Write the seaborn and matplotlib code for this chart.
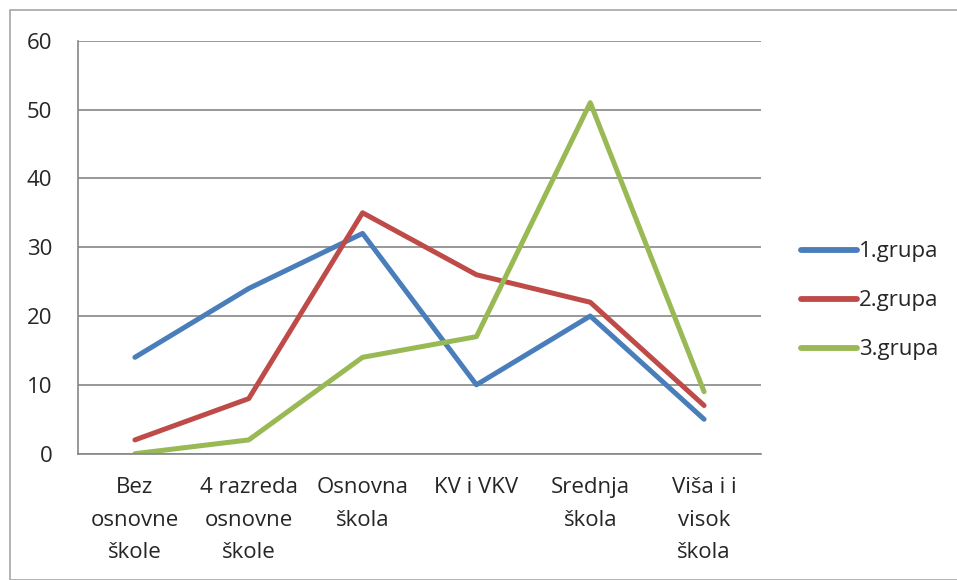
import numpy as np
import pandas as pd
import seaborn as sns
import matplotlib.pyplot as plt
from matplotlib.patches import Rectangle

kategorije = ["Bez\nosnovne\nškole", "4 razreda\nosnovne\nškole", "Osnovna\nškola",
              "KV i VKV", "Srednja\nškola", "Viša i i\nvisok\nškola"]
grupa1 = [14, 24, 32, 10, 20, 5]
grupa2 = [2, 8, 35, 26, 22, 7]
grupa3 = [0, 2, 14, 17, 51, 9]
grupe = ["1.grupa", "2.grupa", "3.grupa"]
boje = ["#4A7EBB", "#BE4B48", "#98B954"]

sns.set_style("white")
plt.rcParams['font.family'] = ['Open Sans', 'DejaVu Sans']

pos = np.arange(len(kategorije)) + 0.5
df = pd.DataFrame({
    "x": np.tile(pos, 3),
    "vrijednost": grupa1 + grupa2 + grupa3,
    "grupa": np.repeat(grupe, len(kategorije)),
})

fig = plt.figure(figsize=(9.57, 5.8), dpi=100)
ax = fig.add_axes([0.0815, 0.2178, 0.7137, 0.712])

sns.lineplot(data=df, x="x", y="vrijednost", hue="grupa", palette=boje,
             linewidth=3.6, ax=ax, sort=False)
for ln in ax.get_lines():
    ln.set_solid_capstyle("round")
    ln.set_solid_joinstyle("round")

gc = "#868686"
ax.set_xlim(0, len(kategorije))
ax.set_ylim(0, 60)
ax.set_yticks(range(0, 61, 10))
ax.yaxis.grid(True, color=gc, linewidth=1.2)
ax.set_axisbelow(True)
for s in ["top", "right"]:
    ax.spines[s].set_visible(False)
ax.spines["left"].set_color(gc)
ax.spines["bottom"].set_color(gc)
ax.spines["left"].set_linewidth(1.2)
ax.spines["bottom"].set_linewidth(1.2)

ax.set_xticks(range(len(kategorije) + 1))
ax.set_xticklabels([])
ax.set_xticks(pos, minor=True)
ax.set_xticklabels(kategorije, minor=True, fontsize=16, linespacing=1.72)
ax.tick_params(axis="x", which="major", direction="out", length=6.3, color=gc, width=1.2)
ax.tick_params(axis="x", which="minor", length=0, pad=17)
ax.tick_params(axis="y", direction="out", length=6.5, color=gc, width=1.2, labelsize=16, pad=12)
ax.set_xlabel("")
ax.set_ylabel("")

leg = ax.legend(loc="center left", bbox_to_anchor=(1.03, 0.37), frameon=False,
                fontsize=16, handlelength=2.5, handletextpad=0.1, labelspacing=1.26)
for h in leg.get_lines():
    h.set_linewidth(4.2)
    h.set_solid_capstyle("round")

fig.patches.append(Rectangle((10 / 957, 0), 1, 1 - 10 / 580, transform=fig.transFigure,
                             fill=False, edgecolor="#A6A6A6", linewidth=1.2))

plt.savefig("out.png", dpi=100)
